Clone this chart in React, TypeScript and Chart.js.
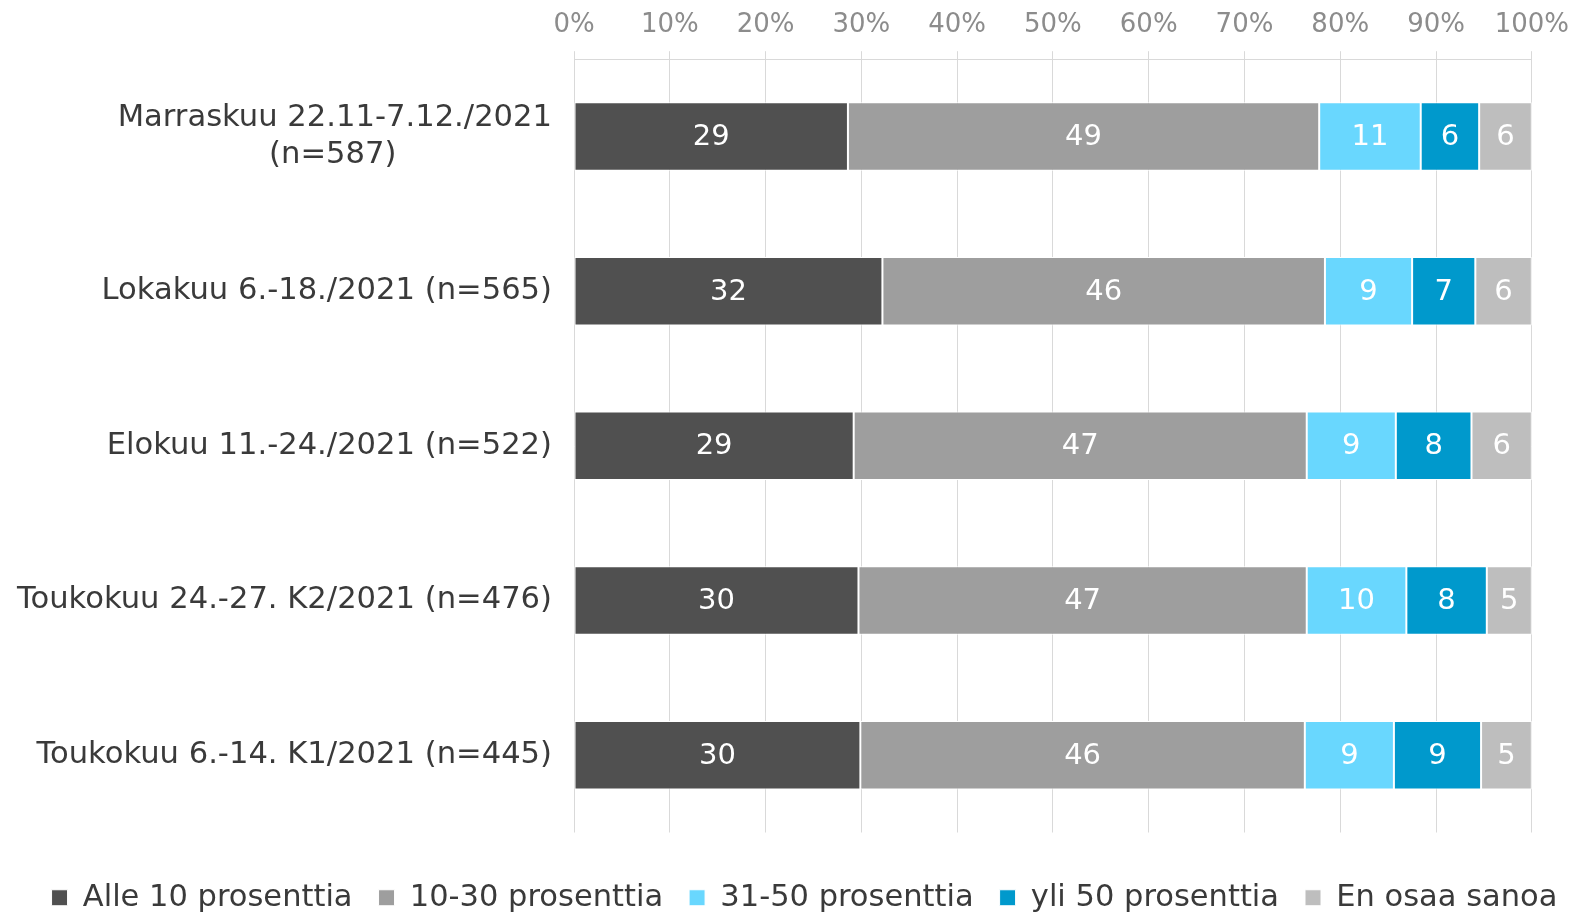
import React, { useEffect, useRef } from "react";
import { Chart, registerables } from "chart.js";

Chart.register(...registerables);

const categories: (string | string[])[] = [
  ["Marraskuu 22.11-7.12./2021", "(n=587)" + "\u00a0".repeat(16)],
  "Lokakuu 6.-18./2021 (n=565)",
  "Elokuu 11.-24./2021 (n=522)",
  "Toukokuu 24.-27. K2/2021 (n=476)",
  "Toukokuu 6.-14. K1/2021 (n=445)",
];

const seriesNames = [
  "Alle 10 prosenttia",
  "10-30 prosenttia",
  "31-50 prosenttia",
  "yli 50 prosenttia",
  "En osaa sanoa",
];

const alle10 = [28.6, 32.2, 29.2, 29.7, 29.9];
const p10to30 = [49.2, 46.2, 47.3, 46.8, 46.4];
const p31to50 = [10.6, 9.1, 9.3, 10.4, 9.3];
const yli50 = [6.1, 6.6, 7.9, 8.4, 9.1];
const enOsaa = [5.5, 5.9, 6.3, 4.7, 5.3];

const xTicks = [0, 10, 20, 30, 40, 50, 60, 70, 80, 90, 100];

const colors = ["#505050", "#9E9E9E", "#69D7FE", "#0099CC", "#BEBEBE"];

const FONT = "'DejaVu Sans', Verdana, sans-serif";

const LEGEND_SHIFT = 20;

const valueLabels = {
  id: "valueLabels",
  afterDatasetsDraw(chart: any) {
    const ctx = chart.ctx;
    ctx.save();
    ctx.fillStyle = "#FFFFFF";
    ctx.font = `29px ${FONT}`;
    ctx.textAlign = "center";
    ctx.textBaseline = "middle";
    chart.data.datasets.forEach((ds: any, di: number) => {
      const meta = chart.getDatasetMeta(di);
      meta.data.forEach((el: any, i: number) => {
        const v = ds.data[i];
        const cx = (el.x + el.base) / 2;
        ctx.fillText(String(Math.round(v)), cx, el.y + 1);
      });
    });
    ctx.restore();
  },
};

const legendShift = {
  id: "legendShift",
  afterLayout(chart: any) {
    const lg = chart.legend;
    if (lg) {
      lg.left += LEGEND_SHIFT;
      lg.right += LEGEND_SHIFT;
    }
  },
};

export default function App() {
  const ref = useRef<HTMLCanvasElement | null>(null);

  useEffect(() => {
    if (!ref.current) return;
    const series = [alle10, p10to30, p31to50, yli50, enOsaa];
    const chart = new Chart(ref.current, {
      type: "bar",
      data: {
        labels: categories,
        datasets: series.map((d, i) => ({
          label: seriesNames[i],
          data: d,
          xAxisID: "x",
          backgroundColor: colors[i],
          borderColor: "#FFFFFF",
          borderWidth: 1,
          borderSkipped: false,
          categoryPercentage: 1,
          barPercentage: 0.443,
        })),
      },
      options: {
        indexAxis: "y",
        responsive: false,
        animation: false,
        maintainAspectRatio: false,
        layout: { padding: { left: 3, right: 13, top: 0, bottom: -10 } },
        scales: {
          x: {
            position: "top",
            stacked: true,
            min: 0,
            max: 100,
            afterBuildTicks: (axis: any) => {
              axis.ticks = xTicks.map((v) => ({ value: v }));
            },
            ticks: {
              callback: (v: any) => v + "%",
              color: "#8C8C8C",
              font: { family: FONT, size: 26 },
              padding: 10,
              maxRotation: 0,
            },
            grid: { color: "#D9D9D9", lineWidth: 1, tickLength: 8 },
            border: { color: "#D9D9D9" },
          },
          x2: {
            position: "bottom",
            min: 0,
            max: 100,
            ticks: { display: false },
            grid: { display: false },
            border: { display: false },
            afterFit: (axis: any) => {
              axis.height = 24;
            },
          },
          y: {
            stacked: true,
            ticks: {
              color: "#3A3A3A",
              font: { family: FONT, size: 30.6 },
              padding: 14,
            },
            grid: { display: false },
            border: { display: false },
          },
        },
        plugins: {
          legend: {
            position: "bottom",
            labels: {
              color: "#3A3A3A",
              font: { family: FONT, size: 30.5 },
              boxWidth: 16,
              boxHeight: 16,
              padding: 26,
            },
          },
          tooltip: { enabled: false },
          title: { display: false },
        },
      },
      plugins: [valueLabels, legendShift],
    });
    return () => chart.destroy();
  }, []);

  return (
    <div style={{ position: "fixed", left: 0, top: 0, width: 1579, height: 913, background: "#fff" }}>
      <canvas ref={ref} width={1579} height={913} style={{ width: 1579, height: 913, display: "block" }} />
    </div>
  );
}
